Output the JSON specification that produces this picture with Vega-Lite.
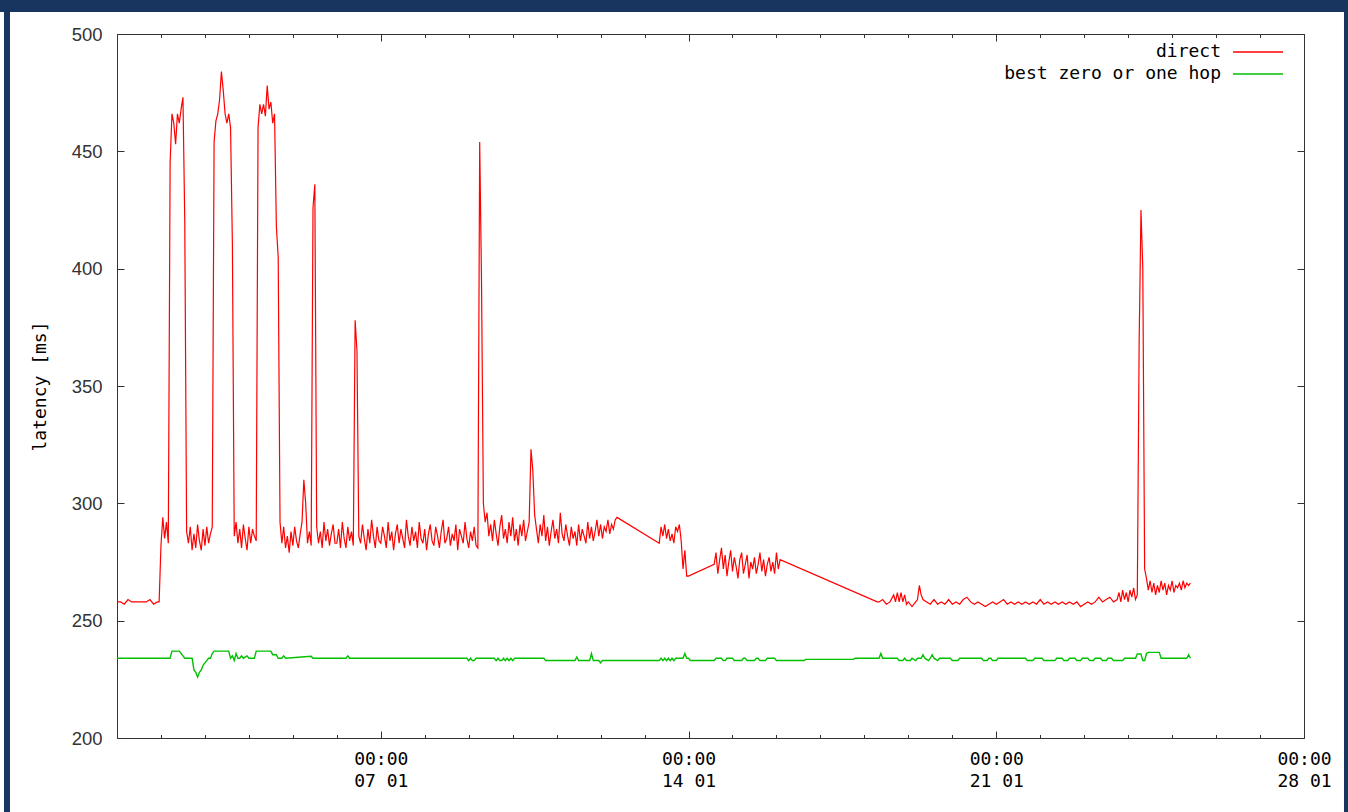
{
"$schema":"https://vega.github.io/schema/vega-lite/v6.json",
"width":1187,"height":704,
"autosize":{"type":"none"},
"padding":{"left":117,"top":34,"right":44,"bottom":74},
"background":"white",
"config":{"view":{"stroke":"#333","strokeWidth":1},"font":"DejaVu Sans Mono"},
"datasets":{
"frame":[
{"x0":"2003-12-20T00:00","x1":"2004-02-10T00:00","y0":509.375,"y1":540},
{"x0":"2003-12-29T10:19","x1":"2003-12-29T13:35","y0":100,"y1":540},
{"x0":"2004-01-28T21:50","x1":"2004-02-10T00:00","y0":100,"y1":540}
],
"direct":[
{"t":"2004-01-01T00:00","v":258},{"t":"2004-01-01T02:00","v":258},{"t":"2004-01-01T04:00","v":257},{"t":"2004-01-01T06:00","v":259},{"t":"2004-01-01T08:00","v":258},{"t":"2004-01-01T10:00","v":258},{"t":"2004-01-01T12:00","v":258},{"t":"2004-01-01T14:00","v":258},{"t":"2004-01-01T16:00","v":258},{"t":"2004-01-01T18:00","v":259},{"t":"2004-01-01T20:00","v":257},{"t":"2004-01-01T22:00","v":258},{"t":"2004-01-01T23:00","v":258},
{"t":"2004-01-02T00:00","v":282},{"t":"2004-01-02T01:00","v":294},{"t":"2004-01-02T02:00","v":285},{"t":"2004-01-02T03:00","v":292},{"t":"2004-01-02T04:00","v":283},{"t":"2004-01-02T05:00","v":445},{"t":"2004-01-02T06:00","v":466},{"t":"2004-01-02T07:00","v":462},{"t":"2004-01-02T08:00","v":453},{"t":"2004-01-02T09:00","v":466},{"t":"2004-01-02T10:00","v":462},{"t":"2004-01-02T11:00","v":468},{"t":"2004-01-02T12:00","v":473},{"t":"2004-01-02T13:00","v":420},{"t":"2004-01-02T14:00","v":288},{"t":"2004-01-02T15:00","v":283},{"t":"2004-01-02T16:00","v":290},{"t":"2004-01-02T17:00","v":280},{"t":"2004-01-02T18:00","v":287},{"t":"2004-01-02T19:00","v":281},{"t":"2004-01-02T20:00","v":291},{"t":"2004-01-02T21:00","v":284},{"t":"2004-01-02T22:00","v":280},{"t":"2004-01-02T23:00","v":289},
{"t":"2004-01-03T00:00","v":282},{"t":"2004-01-03T01:00","v":290},{"t":"2004-01-03T02:00","v":283},{"t":"2004-01-03T03:00","v":287},{"t":"2004-01-03T04:00","v":290},{"t":"2004-01-03T05:00","v":454},{"t":"2004-01-03T06:00","v":463},{"t":"2004-01-03T07:00","v":466},{"t":"2004-01-03T08:00","v":472},{"t":"2004-01-03T09:00","v":484},{"t":"2004-01-03T10:00","v":476},{"t":"2004-01-03T11:00","v":466},{"t":"2004-01-03T12:00","v":462},{"t":"2004-01-03T13:00","v":466},{"t":"2004-01-03T14:00","v":460},{"t":"2004-01-03T15:00","v":410},{"t":"2004-01-03T16:00","v":286},{"t":"2004-01-03T17:00","v":292},{"t":"2004-01-03T18:00","v":283},{"t":"2004-01-03T19:00","v":289},{"t":"2004-01-03T20:00","v":281},{"t":"2004-01-03T21:00","v":291},{"t":"2004-01-03T22:00","v":285},{"t":"2004-01-03T23:00","v":280},
{"t":"2004-01-04T00:00","v":290},{"t":"2004-01-04T01:00","v":283},{"t":"2004-01-04T02:00","v":289},{"t":"2004-01-04T03:00","v":286},{"t":"2004-01-04T04:00","v":284},{"t":"2004-01-04T05:00","v":460},{"t":"2004-01-04T06:00","v":470},{"t":"2004-01-04T07:00","v":466},{"t":"2004-01-04T08:00","v":470},{"t":"2004-01-04T09:00","v":465},{"t":"2004-01-04T10:00","v":478},{"t":"2004-01-04T11:00","v":468},{"t":"2004-01-04T12:00","v":471},{"t":"2004-01-04T13:00","v":462},{"t":"2004-01-04T14:00","v":466},{"t":"2004-01-04T15:00","v":418},{"t":"2004-01-04T16:00","v":405},{"t":"2004-01-04T17:00","v":292},{"t":"2004-01-04T18:00","v":283},{"t":"2004-01-04T19:00","v":290},{"t":"2004-01-04T20:00","v":281},{"t":"2004-01-04T21:00","v":286},{"t":"2004-01-04T22:00","v":279},{"t":"2004-01-04T23:00","v":288},
{"t":"2004-01-05T00:00","v":282},{"t":"2004-01-05T01:00","v":290},{"t":"2004-01-05T02:00","v":284},{"t":"2004-01-05T03:00","v":281},{"t":"2004-01-05T04:00","v":287},{"t":"2004-01-05T05:00","v":292},{"t":"2004-01-05T06:00","v":310},{"t":"2004-01-05T07:00","v":300},{"t":"2004-01-05T08:00","v":283},{"t":"2004-01-05T09:00","v":288},{"t":"2004-01-05T10:00","v":282},{"t":"2004-01-05T11:00","v":426},{"t":"2004-01-05T12:00","v":436},{"t":"2004-01-05T13:00","v":290},{"t":"2004-01-05T14:00","v":283},{"t":"2004-01-05T15:00","v":288},{"t":"2004-01-05T16:00","v":281},{"t":"2004-01-05T17:00","v":292},{"t":"2004-01-05T18:00","v":284},{"t":"2004-01-05T19:00","v":289},{"t":"2004-01-05T20:00","v":282},{"t":"2004-01-05T21:00","v":287},{"t":"2004-01-05T22:00","v":291},{"t":"2004-01-05T23:00","v":283},
{"t":"2004-01-06T00:00","v":283},{"t":"2004-01-06T01:00","v":289},{"t":"2004-01-06T02:00","v":281},{"t":"2004-01-06T03:00","v":292},{"t":"2004-01-06T04:00","v":285},{"t":"2004-01-06T05:00","v":281},{"t":"2004-01-06T06:00","v":290},{"t":"2004-01-06T07:00","v":284},{"t":"2004-01-06T08:00","v":288},{"t":"2004-01-06T09:00","v":282},{"t":"2004-01-06T10:00","v":378},{"t":"2004-01-06T11:00","v":365},{"t":"2004-01-06T12:00","v":286},{"t":"2004-01-06T13:00","v":283},{"t":"2004-01-06T14:00","v":291},{"t":"2004-01-06T15:00","v":285},{"t":"2004-01-06T16:00","v":280},{"t":"2004-01-06T17:00","v":289},{"t":"2004-01-06T18:00","v":283},{"t":"2004-01-06T19:00","v":293},{"t":"2004-01-06T20:00","v":286},{"t":"2004-01-06T21:00","v":281},{"t":"2004-01-06T22:00","v":290},{"t":"2004-01-06T23:00","v":284},
{"t":"2004-01-07T00:00","v":283},{"t":"2004-01-07T01:00","v":290},{"t":"2004-01-07T02:00","v":286},{"t":"2004-01-07T03:00","v":281},{"t":"2004-01-07T04:00","v":292},{"t":"2004-01-07T05:00","v":284},{"t":"2004-01-07T06:00","v":288},{"t":"2004-01-07T07:00","v":280},{"t":"2004-01-07T08:00","v":287},{"t":"2004-01-07T09:00","v":291},{"t":"2004-01-07T10:00","v":283},{"t":"2004-01-07T11:00","v":289},{"t":"2004-01-07T12:00","v":285},{"t":"2004-01-07T13:00","v":281},{"t":"2004-01-07T14:00","v":293},{"t":"2004-01-07T15:00","v":286},{"t":"2004-01-07T16:00","v":282},{"t":"2004-01-07T17:00","v":290},{"t":"2004-01-07T18:00","v":284},{"t":"2004-01-07T19:00","v":288},{"t":"2004-01-07T20:00","v":281},{"t":"2004-01-07T21:00","v":292},{"t":"2004-01-07T22:00","v":285},{"t":"2004-01-07T23:00","v":283},
{"t":"2004-01-08T00:00","v":289},{"t":"2004-01-08T01:00","v":280},{"t":"2004-01-08T02:00","v":287},{"t":"2004-01-08T03:00","v":291},{"t":"2004-01-08T04:00","v":284},{"t":"2004-01-08T05:00","v":282},{"t":"2004-01-08T06:00","v":290},{"t":"2004-01-08T07:00","v":286},{"t":"2004-01-08T08:00","v":281},{"t":"2004-01-08T09:00","v":288},{"t":"2004-01-08T10:00","v":293},{"t":"2004-01-08T11:00","v":283},{"t":"2004-01-08T12:00","v":285},{"t":"2004-01-08T13:00","v":290},{"t":"2004-01-08T14:00","v":282},{"t":"2004-01-08T15:00","v":287},{"t":"2004-01-08T16:00","v":284},{"t":"2004-01-08T17:00","v":291},{"t":"2004-01-08T18:00","v":280},{"t":"2004-01-08T19:00","v":289},{"t":"2004-01-08T20:00","v":286},{"t":"2004-01-08T21:00","v":283},{"t":"2004-01-08T22:00","v":292},{"t":"2004-01-08T23:00","v":285},
{"t":"2004-01-09T00:00","v":281},{"t":"2004-01-09T01:00","v":288},{"t":"2004-01-09T02:00","v":284},{"t":"2004-01-09T03:00","v":290},{"t":"2004-01-09T04:00","v":282},{"t":"2004-01-09T05:00","v":281},{"t":"2004-01-09T06:00","v":454},{"t":"2004-01-09T07:00","v":394},{"t":"2004-01-09T08:00","v":300},{"t":"2004-01-09T09:00","v":292},{"t":"2004-01-09T10:00","v":296},{"t":"2004-01-09T11:00","v":286},{"t":"2004-01-09T12:00","v":291},{"t":"2004-01-09T13:00","v":284},{"t":"2004-01-09T14:00","v":293},{"t":"2004-01-09T15:00","v":287},{"t":"2004-01-09T16:00","v":282},{"t":"2004-01-09T17:00","v":290},{"t":"2004-01-09T18:00","v":295},{"t":"2004-01-09T19:00","v":285},{"t":"2004-01-09T20:00","v":289},{"t":"2004-01-09T21:00","v":283},{"t":"2004-01-09T22:00","v":292},{"t":"2004-01-09T23:00","v":286},
{"t":"2004-01-10T00:00","v":294},{"t":"2004-01-10T01:00","v":284},{"t":"2004-01-10T02:00","v":289},{"t":"2004-01-10T03:00","v":282},{"t":"2004-01-10T04:00","v":291},{"t":"2004-01-10T05:00","v":286},{"t":"2004-01-10T06:00","v":293},{"t":"2004-01-10T07:00","v":284},{"t":"2004-01-10T08:00","v":288},{"t":"2004-01-10T09:00","v":292},{"t":"2004-01-10T10:00","v":323},{"t":"2004-01-10T11:00","v":314},{"t":"2004-01-10T12:00","v":295},{"t":"2004-01-10T13:00","v":289},{"t":"2004-01-10T14:00","v":283},{"t":"2004-01-10T15:00","v":291},{"t":"2004-01-10T16:00","v":286},{"t":"2004-01-10T17:00","v":295},{"t":"2004-01-10T18:00","v":284},{"t":"2004-01-10T19:00","v":290},{"t":"2004-01-10T20:00","v":282},{"t":"2004-01-10T21:00","v":288},{"t":"2004-01-10T22:00","v":293},{"t":"2004-01-10T23:00","v":285},
{"t":"2004-01-11T00:00","v":289},{"t":"2004-01-11T01:00","v":283},{"t":"2004-01-11T02:00","v":296},{"t":"2004-01-11T03:00","v":287},{"t":"2004-01-11T04:00","v":284},{"t":"2004-01-11T05:00","v":291},{"t":"2004-01-11T06:00","v":286},{"t":"2004-01-11T07:00","v":282},{"t":"2004-01-11T08:00","v":290},{"t":"2004-01-11T09:00","v":285},{"t":"2004-01-11T10:00","v":288},{"t":"2004-01-11T11:00","v":282},{"t":"2004-01-11T12:00","v":291},{"t":"2004-01-11T13:00","v":284},{"t":"2004-01-11T14:00","v":289},{"t":"2004-01-11T15:00","v":286},{"t":"2004-01-11T16:00","v":283},{"t":"2004-01-11T17:00","v":292},{"t":"2004-01-11T18:00","v":285},{"t":"2004-01-11T19:00","v":290},{"t":"2004-01-11T20:00","v":284},{"t":"2004-01-11T21:00","v":288},{"t":"2004-01-11T22:00","v":293},{"t":"2004-01-11T23:00","v":286},
{"t":"2004-01-12T00:00","v":291},{"t":"2004-01-12T01:00","v":285},{"t":"2004-01-12T02:00","v":290},{"t":"2004-01-12T03:00","v":288},{"t":"2004-01-12T04:00","v":293},{"t":"2004-01-12T05:00","v":287},{"t":"2004-01-12T06:00","v":291},{"t":"2004-01-12T07:00","v":289},{"t":"2004-01-12T08:00","v":293},{"t":"2004-01-12T09:00","v":294},
{"t":"2004-01-13T08:00","v":283},{"t":"2004-01-13T09:00","v":290},{"t":"2004-01-13T10:00","v":286},{"t":"2004-01-13T11:00","v":291},{"t":"2004-01-13T12:00","v":285},{"t":"2004-01-13T13:00","v":289},{"t":"2004-01-13T14:00","v":284},{"t":"2004-01-13T15:00","v":287},{"t":"2004-01-13T16:00","v":283},{"t":"2004-01-13T17:00","v":290},{"t":"2004-01-13T18:00","v":288},{"t":"2004-01-13T19:00","v":291},{"t":"2004-01-13T20:00","v":284},{"t":"2004-01-13T21:00","v":272},{"t":"2004-01-13T22:00","v":280},{"t":"2004-01-13T23:00","v":269},
{"t":"2004-01-14T00:00","v":269},
{"t":"2004-01-14T14:00","v":274},{"t":"2004-01-14T15:00","v":279},{"t":"2004-01-14T16:00","v":270},{"t":"2004-01-14T17:00","v":276},{"t":"2004-01-14T18:00","v":281},{"t":"2004-01-14T19:00","v":272},{"t":"2004-01-14T20:00","v":278},{"t":"2004-01-14T21:00","v":269},{"t":"2004-01-14T22:00","v":275},{"t":"2004-01-14T23:00","v":280},
{"t":"2004-01-15T00:00","v":271},{"t":"2004-01-15T01:00","v":277},{"t":"2004-01-15T02:00","v":273},{"t":"2004-01-15T03:00","v":268},{"t":"2004-01-15T04:00","v":276},{"t":"2004-01-15T05:00","v":279},{"t":"2004-01-15T06:00","v":270},{"t":"2004-01-15T07:00","v":274},{"t":"2004-01-15T08:00","v":278},{"t":"2004-01-15T09:00","v":268},{"t":"2004-01-15T10:00","v":275},{"t":"2004-01-15T11:00","v":272},{"t":"2004-01-15T12:00","v":277},{"t":"2004-01-15T13:00","v":270},{"t":"2004-01-15T14:00","v":274},{"t":"2004-01-15T15:00","v":279},{"t":"2004-01-15T16:00","v":271},{"t":"2004-01-15T17:00","v":276},{"t":"2004-01-15T18:00","v":269},{"t":"2004-01-15T19:00","v":274},{"t":"2004-01-15T20:00","v":277},{"t":"2004-01-15T21:00","v":271},{"t":"2004-01-15T22:00","v":275},{"t":"2004-01-15T23:00","v":270},
{"t":"2004-01-16T00:00","v":279},{"t":"2004-01-16T01:00","v":272},{"t":"2004-01-16T02:00","v":276},
{"t":"2004-01-18T07:00","v":258},{"t":"2004-01-18T08:00","v":258},{"t":"2004-01-18T10:00","v":259},{"t":"2004-01-18T12:00","v":257},{"t":"2004-01-18T14:00","v":258},{"t":"2004-01-18T16:00","v":261},{"t":"2004-01-18T17:00","v":258},{"t":"2004-01-18T18:00","v":262},{"t":"2004-01-18T19:00","v":258},{"t":"2004-01-18T20:00","v":262},{"t":"2004-01-18T21:00","v":258},{"t":"2004-01-18T22:00","v":261},{"t":"2004-01-18T23:00","v":257},
{"t":"2004-01-19T00:00","v":258},{"t":"2004-01-19T02:00","v":256},{"t":"2004-01-19T04:00","v":258},{"t":"2004-01-19T05:00","v":259},{"t":"2004-01-19T06:00","v":265},{"t":"2004-01-19T07:00","v":261},{"t":"2004-01-19T08:00","v":259},{"t":"2004-01-19T10:00","v":258},{"t":"2004-01-19T12:00","v":257},{"t":"2004-01-19T14:00","v":259},{"t":"2004-01-19T16:00","v":257},{"t":"2004-01-19T18:00","v":258},{"t":"2004-01-19T20:00","v":257},{"t":"2004-01-19T22:00","v":259},
{"t":"2004-01-20T00:00","v":257},{"t":"2004-01-20T02:00","v":258},{"t":"2004-01-20T04:00","v":257},{"t":"2004-01-20T06:00","v":259},{"t":"2004-01-20T08:00","v":260},{"t":"2004-01-20T10:00","v":258},{"t":"2004-01-20T12:00","v":257},{"t":"2004-01-20T14:00","v":258},{"t":"2004-01-20T16:00","v":257},{"t":"2004-01-20T18:00","v":256},{"t":"2004-01-20T20:00","v":257},{"t":"2004-01-20T22:00","v":258},
{"t":"2004-01-21T00:00","v":257},{"t":"2004-01-21T02:00","v":258},{"t":"2004-01-21T04:00","v":259},{"t":"2004-01-21T06:00","v":257},{"t":"2004-01-21T08:00","v":258},{"t":"2004-01-21T10:00","v":257},{"t":"2004-01-21T12:00","v":258},{"t":"2004-01-21T14:00","v":257},{"t":"2004-01-21T16:00","v":258},{"t":"2004-01-21T18:00","v":257},{"t":"2004-01-21T20:00","v":258},{"t":"2004-01-21T22:00","v":257},
{"t":"2004-01-22T00:00","v":259},{"t":"2004-01-22T02:00","v":257},{"t":"2004-01-22T04:00","v":258},{"t":"2004-01-22T06:00","v":257},{"t":"2004-01-22T08:00","v":258},{"t":"2004-01-22T10:00","v":257},{"t":"2004-01-22T12:00","v":258},{"t":"2004-01-22T14:00","v":257},{"t":"2004-01-22T16:00","v":258},{"t":"2004-01-22T18:00","v":257},{"t":"2004-01-22T20:00","v":258},{"t":"2004-01-22T22:00","v":256},
{"t":"2004-01-23T00:00","v":257},{"t":"2004-01-23T02:00","v":258},{"t":"2004-01-23T04:00","v":257},{"t":"2004-01-23T06:00","v":258},{"t":"2004-01-23T08:00","v":260},{"t":"2004-01-23T10:00","v":258},{"t":"2004-01-23T12:00","v":259},{"t":"2004-01-23T14:00","v":260},{"t":"2004-01-23T16:00","v":258},{"t":"2004-01-23T18:00","v":259},{"t":"2004-01-23T19:00","v":262},{"t":"2004-01-23T20:00","v":258},{"t":"2004-01-23T21:00","v":263},{"t":"2004-01-23T22:00","v":259},{"t":"2004-01-23T23:00","v":262},
{"t":"2004-01-24T00:00","v":258},{"t":"2004-01-24T01:00","v":263},{"t":"2004-01-24T02:00","v":260},{"t":"2004-01-24T03:00","v":264},{"t":"2004-01-24T04:00","v":259},{"t":"2004-01-24T05:00","v":261},{"t":"2004-01-24T06:00","v":368},{"t":"2004-01-24T07:00","v":425},{"t":"2004-01-24T08:00","v":400},{"t":"2004-01-24T09:00","v":272},{"t":"2004-01-24T10:00","v":268},{"t":"2004-01-24T11:00","v":263},{"t":"2004-01-24T12:00","v":267},{"t":"2004-01-24T13:00","v":262},{"t":"2004-01-24T14:00","v":266},{"t":"2004-01-24T15:00","v":261},{"t":"2004-01-24T16:00","v":265},{"t":"2004-01-24T17:00","v":262},{"t":"2004-01-24T18:00","v":267},{"t":"2004-01-24T19:00","v":263},{"t":"2004-01-24T20:00","v":266},{"t":"2004-01-24T21:00","v":261},{"t":"2004-01-24T22:00","v":265},{"t":"2004-01-24T23:00","v":263},
{"t":"2004-01-25T00:00","v":267},{"t":"2004-01-25T01:00","v":262},{"t":"2004-01-25T02:00","v":265},{"t":"2004-01-25T03:00","v":264},{"t":"2004-01-25T04:00","v":266},{"t":"2004-01-25T05:00","v":263},{"t":"2004-01-25T06:00","v":267},{"t":"2004-01-25T07:00","v":264},{"t":"2004-01-25T08:00","v":266},{"t":"2004-01-25T09:00","v":265},{"t":"2004-01-25T10:00","v":266}
],
"hop":[
{"t":"2004-01-01T00:00","v":234},{"t":"2004-01-02T05:00","v":234},{"t":"2004-01-02T06:00","v":237},{"t":"2004-01-02T10:00","v":237},{"t":"2004-01-02T11:00","v":236},{"t":"2004-01-02T12:00","v":235},{"t":"2004-01-02T13:00","v":234},{"t":"2004-01-02T17:00","v":234},{"t":"2004-01-02T18:00","v":229},{"t":"2004-01-02T19:00","v":228},{"t":"2004-01-02T20:00","v":226},{"t":"2004-01-02T21:00","v":228},{"t":"2004-01-02T22:00","v":229},{"t":"2004-01-02T23:00","v":231},
{"t":"2004-01-03T00:00","v":232},{"t":"2004-01-03T01:00","v":233},{"t":"2004-01-03T02:00","v":234},{"t":"2004-01-03T03:00","v":234},{"t":"2004-01-03T04:00","v":236},{"t":"2004-01-03T05:00","v":237},{"t":"2004-01-03T13:00","v":237},{"t":"2004-01-03T14:00","v":234},{"t":"2004-01-03T15:00","v":235},{"t":"2004-01-03T16:00","v":233},{"t":"2004-01-03T17:00","v":236},{"t":"2004-01-03T18:00","v":234},{"t":"2004-01-03T19:00","v":234},{"t":"2004-01-03T20:00","v":235},{"t":"2004-01-03T21:00","v":234},{"t":"2004-01-03T23:00","v":235},
{"t":"2004-01-04T00:00","v":234},{"t":"2004-01-04T03:00","v":234},{"t":"2004-01-04T04:00","v":237},{"t":"2004-01-04T12:00","v":237},{"t":"2004-01-04T13:00","v":235.5},{"t":"2004-01-04T15:00","v":235.5},{"t":"2004-01-04T16:00","v":234},{"t":"2004-01-04T18:00","v":234},{"t":"2004-01-04T19:00","v":235},{"t":"2004-01-04T20:00","v":234},
{"t":"2004-01-05T10:00","v":234.8},{"t":"2004-01-05T11:00","v":234},{"t":"2004-01-06T05:00","v":234},{"t":"2004-01-06T06:00","v":235},{"t":"2004-01-06T07:00","v":234},{"t":"2004-01-08T23:00","v":234},
{"t":"2004-01-09T00:00","v":233},{"t":"2004-01-09T01:00","v":234},{"t":"2004-01-09T02:00","v":233},{"t":"2004-01-09T03:00","v":233},{"t":"2004-01-09T04:00","v":234},{"t":"2004-01-09T14:00","v":234},{"t":"2004-01-09T15:00","v":233},{"t":"2004-01-09T16:00","v":234},{"t":"2004-01-09T17:00","v":233},{"t":"2004-01-09T18:00","v":233},{"t":"2004-01-09T19:00","v":234},{"t":"2004-01-09T20:00","v":233},{"t":"2004-01-09T21:00","v":234},{"t":"2004-01-09T22:00","v":233},{"t":"2004-01-09T23:00","v":234},
{"t":"2004-01-10T00:00","v":233},{"t":"2004-01-10T01:00","v":234},{"t":"2004-01-10T17:00","v":234},{"t":"2004-01-10T18:00","v":233},{"t":"2004-01-11T10:00","v":233},{"t":"2004-01-11T11:00","v":234.5},{"t":"2004-01-11T12:00","v":233},{"t":"2004-01-11T18:00","v":233},{"t":"2004-01-11T19:00","v":236},{"t":"2004-01-11T20:00","v":233},{"t":"2004-01-11T23:00","v":233},{"t":"2004-01-12T00:00","v":232},{"t":"2004-01-12T01:00","v":233},
{"t":"2004-01-13T08:00","v":233},{"t":"2004-01-13T09:00","v":234},{"t":"2004-01-13T10:00","v":233},{"t":"2004-01-13T11:00","v":234},{"t":"2004-01-13T12:00","v":233},{"t":"2004-01-13T13:00","v":234},{"t":"2004-01-13T14:00","v":233},{"t":"2004-01-13T15:00","v":234},{"t":"2004-01-13T16:00","v":233},{"t":"2004-01-13T17:00","v":234},{"t":"2004-01-13T21:00","v":234},{"t":"2004-01-13T22:00","v":236},{"t":"2004-01-13T23:00","v":234},
{"t":"2004-01-14T00:00","v":234},{"t":"2004-01-14T01:00","v":233},{"t":"2004-01-14T14:00","v":233},{"t":"2004-01-14T15:00","v":234},{"t":"2004-01-14T18:00","v":234},{"t":"2004-01-14T19:00","v":233},{"t":"2004-01-14T20:00","v":233},{"t":"2004-01-14T21:00","v":234},
{"t":"2004-01-15T00:00","v":234},{"t":"2004-01-15T01:00","v":233},{"t":"2004-01-15T05:00","v":233},{"t":"2004-01-15T06:00","v":234},{"t":"2004-01-15T07:00","v":234},{"t":"2004-01-15T08:00","v":233},{"t":"2004-01-15T12:00","v":233},{"t":"2004-01-15T13:00","v":234},{"t":"2004-01-15T14:00","v":234},{"t":"2004-01-15T15:00","v":233},{"t":"2004-01-15T18:00","v":233},{"t":"2004-01-15T19:00","v":234},{"t":"2004-01-15T23:00","v":234},
{"t":"2004-01-16T00:00","v":233},{"t":"2004-01-16T15:00","v":233},{"t":"2004-01-16T16:00","v":233.5},{"t":"2004-01-17T18:00","v":233.5},{"t":"2004-01-17T19:00","v":234},
{"t":"2004-01-18T08:00","v":234},{"t":"2004-01-18T09:00","v":236},{"t":"2004-01-18T10:00","v":234},{"t":"2004-01-18T18:00","v":234},{"t":"2004-01-18T19:00","v":233},{"t":"2004-01-18T21:00","v":233},{"t":"2004-01-18T22:00","v":234},{"t":"2004-01-18T23:00","v":233},
{"t":"2004-01-19T01:00","v":233},{"t":"2004-01-19T02:00","v":234},{"t":"2004-01-19T04:00","v":233},{"t":"2004-01-19T05:00","v":234},{"t":"2004-01-19T07:00","v":234},{"t":"2004-01-19T08:00","v":235.5},{"t":"2004-01-19T09:00","v":234},{"t":"2004-01-19T11:00","v":233},{"t":"2004-01-19T12:00","v":234},{"t":"2004-01-19T13:00","v":235.5},{"t":"2004-01-19T14:00","v":234},{"t":"2004-01-19T16:00","v":233},{"t":"2004-01-19T17:00","v":234},{"t":"2004-01-19T23:00","v":234},
{"t":"2004-01-20T00:00","v":233},{"t":"2004-01-20T03:00","v":233},{"t":"2004-01-20T04:00","v":234},{"t":"2004-01-20T16:00","v":234},{"t":"2004-01-20T17:00","v":233},{"t":"2004-01-20T19:00","v":233},{"t":"2004-01-20T20:00","v":234},{"t":"2004-01-20T21:00","v":234},{"t":"2004-01-20T22:00","v":233},
{"t":"2004-01-21T00:00","v":233},{"t":"2004-01-21T01:00","v":234},{"t":"2004-01-21T16:00","v":234},{"t":"2004-01-21T17:00","v":233},{"t":"2004-01-21T20:00","v":233},{"t":"2004-01-21T21:00","v":234},
{"t":"2004-01-22T01:00","v":234},{"t":"2004-01-22T02:00","v":233},{"t":"2004-01-22T08:00","v":233},{"t":"2004-01-22T09:00","v":234},{"t":"2004-01-22T12:00","v":234},{"t":"2004-01-22T13:00","v":233},{"t":"2004-01-22T15:00","v":233},{"t":"2004-01-22T16:00","v":234},{"t":"2004-01-22T19:00","v":234},{"t":"2004-01-22T20:00","v":233},{"t":"2004-01-22T22:00","v":233},{"t":"2004-01-22T23:00","v":234},
{"t":"2004-01-23T02:00","v":234},{"t":"2004-01-23T03:00","v":233},{"t":"2004-01-23T05:00","v":233},{"t":"2004-01-23T06:00","v":234},{"t":"2004-01-23T09:00","v":234},{"t":"2004-01-23T10:00","v":233},{"t":"2004-01-23T12:00","v":233},{"t":"2004-01-23T13:00","v":234},{"t":"2004-01-23T15:00","v":234},{"t":"2004-01-23T16:00","v":233},{"t":"2004-01-23T21:00","v":233},{"t":"2004-01-23T22:00","v":234},
{"t":"2004-01-24T04:00","v":234},{"t":"2004-01-24T05:00","v":235.8},{"t":"2004-01-24T07:00","v":235.8},{"t":"2004-01-24T08:00","v":233},{"t":"2004-01-24T09:00","v":233},{"t":"2004-01-24T10:00","v":236},{"t":"2004-01-24T11:00","v":236.5},{"t":"2004-01-24T17:00","v":236.5},{"t":"2004-01-24T18:00","v":234},
{"t":"2004-01-25T08:00","v":234},{"t":"2004-01-25T09:00","v":235.5},{"t":"2004-01-25T10:00","v":234}
]
},
"layer":[
{"data":{"name":"frame"},
 "mark":{"type":"rect","color":"#17355e","clip":false},
 "encoding":{
  "x":{"field":"x0","type":"temporal","axis":null,"scale":{"domain":[{"year":2004,"month":1,"date":1},{"year":2004,"month":1,"date":28}]}},
  "x2":{"field":"x1"},
  "y":{"field":"y0","type":"quantitative","axis":null,"scale":{"domain":[200,500],"nice":false,"zero":false}},
  "y2":{"field":"y1"}}},
{"data":{"name":"direct"},
 "mark":{"type":"line","strokeWidth":1.2},
 "encoding":{
  "x":{"field":"t","type":"temporal","scale":{"domain":[{"year":2004,"month":1,"date":1},{"year":2004,"month":1,"date":28}]},
   "axis":{"orient":"bottom","title":null,"domain":false,"grid":false,"tickCount":{"interval":"day","step":1},
    "tickSize":{"condition":{"test":"date(datum.value) % 7 == 0","value":-7},"value":-3.5},
    "tickColor":"#333","tickWidth":1,
    "labelExpr":"date(datum.value) % 7 == 0 ? [timeFormat(datum.value, '%H:%M'), timeFormat(datum.value, '%d %m')] : ''",
    "labelFont":"DejaVu Sans Mono","labelFontSize":18,"labelColor":"#000","labelLineHeight":22,"labelPadding":19,"labelFlush":false,"labelOverlap":false,"labelBound":false}},
  "y":{"field":"v","type":"quantitative","scale":{"domain":[200,500],"nice":false,"zero":false},
   "axis":{"orient":"left","values":[200,250,300,350,400,450,500],"domain":false,"grid":false,"tickSize":-7,"tickColor":"#333",
    "labelFont":"Liberation Sans","labelFontSize":18.5,"labelColor":"#333","labelPadding":22,
    "title":"latency [ms]","titleFont":"DejaVu Sans Mono","titleFontSize":18,"titleFontWeight":"normal","titleColor":"#000","titlePadding":22}},
  "color":{"datum":"direct","type":"nominal","scale":{"domain":["direct","best zero or one hop"],"range":["#ff0000","#00c000"]},
   "legend":{"orient":"none","legendX":1132,"legendY":9,"title":null,"padding":0,"symbolType":"M-5,0H5","symbolSize":100,"symbolStrokeWidth":1.3,
    "labelFont":"DejaVu Sans Mono","labelFontSize":18,"labelColor":"#000","labelAlign":"right","labelOffset":-46,"labelLimit":400,"rowPadding":4}}}},
{"data":{"name":"hop"},
 "mark":{"type":"line","strokeWidth":1.4},
 "encoding":{
  "x":{"field":"t","type":"temporal","scale":{"domain":[{"year":2004,"month":1,"date":1},{"year":2004,"month":1,"date":28}]},
   "axis":{"orient":"top","title":null,"domain":false,"grid":false,"labels":false,"tickCount":{"interval":"day","step":1},
    "tickSize":{"condition":{"test":"date(datum.value) % 7 == 0","value":-7},"value":-3.5},"tickColor":"#333"}},
  "y":{"field":"v","type":"quantitative","scale":{"domain":[200,500],"nice":false,"zero":false},
   "axis":{"orient":"right","values":[200,250,300,350,400,450,500],"domain":false,"grid":false,"labels":false,"title":null,"tickSize":-7,"tickColor":"#333"}},
  "color":{"datum":"best zero or one hop","type":"nominal"}}}
],
"resolve":{"axis":{"x":"independent","y":"independent"}}
}
